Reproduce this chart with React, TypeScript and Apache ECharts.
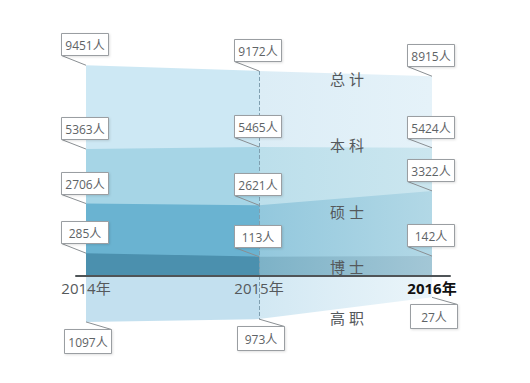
import React, { useEffect, useRef } from 'react';
import * as echarts from 'echarts';

// ---- data ----
const years = ['2014年', '2015年', '2016年'];
const total = [9451, 9172, 8915];
const undergrad = [5363, 5465, 5424];
const master = [2706, 2621, 3322];
const doctor = [285, 113, 142];
const vocational = [1097, 973, 27];
const bandNames = ['总 计', '本 科', '硕 士', '博 士', '高 职'];
const unit = '人';

const FONT = '"Open Sans", "Noto Sans CJK SC", sans-serif';

const grad = (a: string, b: string, c: string) =>
  new echarts.graphic.LinearGradient(0, 0, 1, 0, [
    { offset: 0, color: a },
    { offset: 0.5, color: a },
    { offset: 0.503, color: b },
    { offset: 1, color: c },
  ]);

const toPts = (arr: number[]) => arr.map((v, i) => [i, v]);

function areaSeries(name: string, arr: number[], fill: any, z: number, axis: number, extra: any = {}) {
  return {
    name,
    type: 'line',
    xAxisIndex: axis,
    yAxisIndex: axis,
    data: toPts(arr),
    symbol: 'none',
    silent: true,
    z,
    lineStyle: { width: 0 },
    areaStyle: { color: fill, opacity: 1, origin: 'start' },
    ...extra,
  };
}

function labelSeries(axis: number, rows: number[][], below: boolean) {
  const data: number[][] = [];
  const texts: string[] = [];
  rows.forEach((arr) => arr.forEach((v, i) => { data.push([i, v]); texts.push(`${v}${unit}`); }));
  return {
    type: 'custom',
    xAxisIndex: axis,
    yAxisIndex: axis,
    z: 20,
    silent: true,
    clip: false,
    data,
    encode: { x: 0, y: 1 },
    renderItem: (params: any, api: any) => {
      const p = api.coord([api.value(0), api.value(1)]);
      const w = 47, h = below ? 24 : 22;
      let bx: number, by: number, tail: number[][];
      if (!below) {
        bx = Math.round(p[0] - 25); by = Math.round(p[1] - 10 - h);
        tail = [[bx + 0.5, by + h + 0.5], [p[0], p[1]]];
      } else {
        bx = Math.round(p[0] + 25 - w); by = Math.round(p[1] + 7);
        tail = [[p[0], p[1]], [bx + w + 0.5, by + 0.5]];
      }
      return {
        type: 'group',
        children: [
          { type: 'polyline', shape: { points: tail }, style: { stroke: '#8a8f93', lineWidth: 1, fill: null } },
          {
            type: 'rect',
            shape: { x: bx + 0.5, y: by + 0.5, width: w, height: h },
            style: { fill: '#ffffff', stroke: '#9a9ea2', lineWidth: 1, shadowBlur: 2, shadowColor: 'rgba(0,0,0,0.12)', shadowOffsetX: 1, shadowOffsetY: 1 },
          },
          {
            type: 'text',
            style: {
              text: texts[params.dataIndex],
              x: bx + w / 2 + 0.5,
              y: by + h / 2 + 1,
              align: 'center',
              verticalAlign: 'middle',
              fill: '#5e6366',
              fontSize: 12,
              fontFamily: FONT,
            },
          },
        ],
      };
    },
  };
}

export default function App() {
  const ref = useRef<HTMLDivElement>(null);
  useEffect(() => {
    if (!ref.current) return;
    const chart = echarts.init(ref.current, null, { renderer: 'svg' });

    const xMin = -0.0578, xMax = 2.104;
    const xBase = {
      type: 'value',
      min: xMin,
      max: xMax,
      splitLine: { show: false },
      axisTick: { show: false },
    };

    const bandLabel = (text: string, y: number) => ({
      type: 'text',
      x: 347,
      y,
      style: { text, align: 'center', verticalAlign: 'middle', fill: '#55595c', fontSize: 15, fontFamily: FONT },
      z: 30,
    });

    chart.setOption({
      animation: false,
      backgroundColor: '#ffffff',
      grid: [
        { left: 76, right: 80, top: 54, bottom: 107 },
        { left: 76, right: 80, top: 276, bottom: 40.3 },
      ],
      xAxis: [
        {
          ...xBase,
          gridIndex: 0,
          z: 15,
          axisLine: { show: true, onZero: false, lineStyle: { color: '#4f5457', width: 2 } },
          axisLabel: {
            customValues: [0, 1, 2],
            margin: 4,
            formatter: (v: number) => {
              const i = Math.round(v);
              return i === 2 ? `{b|${years[i]}}` : `{n|${years[i]}}`;
            },
            rich: {
              n: { fontSize: 15, color: '#55595c', fontFamily: FONT },
              b: { fontSize: 15, color: '#111111', fontWeight: 'bold', fontFamily: FONT },
            },
          },
        },
        { ...xBase, gridIndex: 1, show: false },
      ],
      yAxis: [
        { type: 'value', gridIndex: 0, min: -830, max: 10000, show: false, splitLine: { show: false } },
        { type: 'value', gridIndex: 1, min: -900, max: 2000, inverse: true, show: false, splitLine: { show: false } },
      ],
      graphic: [
        bandLabel(bandNames[0], 79),
        bandLabel(bandNames[1], 145),
        bandLabel(bandNames[2], 212),
        bandLabel(bandNames[3], 267),
        bandLabel(bandNames[4], 318),
      ],
      series: [
        areaSeries('总计', total, grad('#cde8f4', '#dcedf6', '#e5f2f9'), 1, 0),
        areaSeries('本科', undergrad, grad('#a6d5e6', '#bcdfeb', '#cbe6ef'), 2, 0),
        areaSeries('硕士', master, grad('#6ab3d1', '#93c8dd', '#b2d8e6'), 3, 0),
        areaSeries('博士', doctor, grad('#4b90ae', '#7db2c7', '#a3c7d6'), 4, 0, {
          markLine: {
            silent: true,
            symbol: 'none',
            label: { show: false },
            lineStyle: { type: 'dashed', color: '#7f9fb0', width: 1 },
            data: [[{ coord: [1, total[1]] }, { coord: [1, -830] }]],
          },
        }),
        areaSeries('高职', vocational, grad('#c3e0ef', '#d2e8f3', '#ebf5fa'), 1, 1, {
          markLine: {
            silent: true,
            symbol: 'none',
            label: { show: false },
            lineStyle: { type: 'dashed', color: '#7f9fb0', width: 1 },
            data: [[{ coord: [1, -900] }, { coord: [1, vocational[1]] }]],
          },
        }),
        labelSeries(0, [total, undergrad, master, doctor], false),
        labelSeries(1, [vocational], true),
      ],
    });
    return () => chart.dispose();
  }, []);
  return <div ref={ref} style={{ width: 530, height: 383, position: 'absolute', left: 0, top: 0 }} />;
}
